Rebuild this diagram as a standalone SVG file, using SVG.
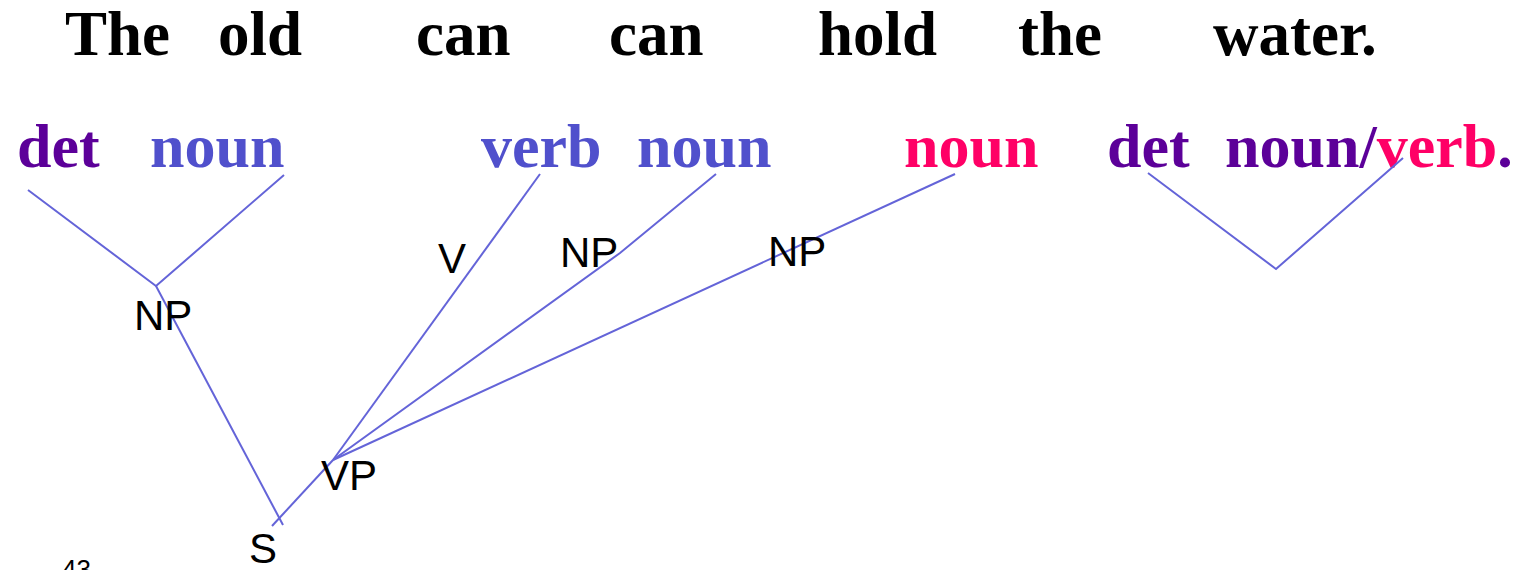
<svg xmlns="http://www.w3.org/2000/svg" width="1532" height="570" viewBox="0 0 1532 570">
<style>
.w{font-family:"Liberation Serif","Times New Roman",serif;font-weight:bold;font-size:63px;fill:#000}
.t{font-family:"Liberation Serif","Times New Roman",serif;font-weight:bold;font-size:62px}
.p{fill:#5C0099}.b{fill:#5050CC}.r{fill:#FF0066}
.l{font-family:"Liberation Sans",Arial,sans-serif;font-size:42px;fill:#000}
.e{fill:none;stroke:#6464D8;stroke-width:2}
</style>
<rect width="1532" height="570" fill="#fff"/>
<g id="words">
<text class="w" x="65" y="55">The</text>
<text class="w" x="218" y="55">old</text>
<text class="w" x="416" y="55">can</text>
<text class="w" x="609" y="55">can</text>
<text class="w" x="818" y="55">hold</text>
<text class="w" x="1018" y="55">the</text>
<text class="w" x="1213" y="55">water.</text>
</g>
<g id="tags">
<text class="t p" x="17" y="167">det</text>
<text class="t b" x="150" y="167">noun</text>
<text class="t b" x="481" y="167">verb</text>
<text class="t b" x="637" y="167">noun</text>
<text class="t r" x="904" y="167">noun</text>
<text class="t p" x="1107" y="167">det</text>
<text class="t" x="1225" y="167"><tspan class="p">noun/</tspan><tspan class="r">verb</tspan><tspan class="p">.</tspan></text>
</g>
<g id="connectors">
<polyline class="e" points="28,190 156,286 284,175"/>
<line class="e" x1="156" y1="286" x2="283" y2="525"/>
<line class="e" x1="333" y1="460" x2="272" y2="526"/>
<line class="e" x1="333" y1="460" x2="540" y2="174"/>
<polyline class="e" points="333,460 620,253 716,174"/>
<line class="e" x1="333" y1="460" x2="955" y2="174"/>
<polyline class="e" points="1148,173 1276,269 1403,158"/>
</g>
<g id="node-NP1"><text class="l" x="134" y="330">NP</text></g>
<g id="node-V"><text class="l" x="438" y="273">V</text></g>
<g id="node-NP2"><text class="l" x="560" y="267">NP</text></g>
<g id="node-NP3"><text class="l" x="768" y="266">NP</text></g>
<g id="node-VP"><text class="l" x="321" y="490">VP</text></g>
<g id="node-S"><text class="l" x="249" y="563">S</text></g>
<g id="page"><text x="62" y="578" font-family="Liberation Sans, Arial, sans-serif" font-size="26" fill="#000">43</text></g>
</svg>
